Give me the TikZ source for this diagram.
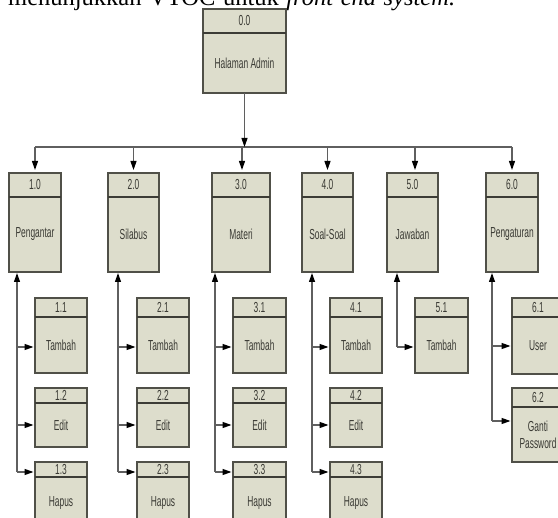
\documentclass[tikz,border=0pt]{standalone}
\usepackage{fontspec}
\setmainfont{Liberation Serif}
\newfontfamily\narrowsans[FakeStretch=0.58]{Liberation Sans}
\usetikzlibrary{arrows.meta}

\definecolor{boxfill}{RGB}{221,221,204}
\definecolor{boxline}{RGB}{80,80,72}
\definecolor{wiregray}{RGB}{95,95,95}
\definecolor{labelgray}{RGB}{58,58,52}

\tikzset{
  tocframe/.style={draw=boxline, line width=1.3pt, fill=boxfill, inner sep=0pt, outer sep=0pt},
  tocrule/.style={draw=boxline!75!black, line width=1.8pt},
  toclabel/.style={font=\narrowsans\fontsize{14.5}{17}\selectfont, text=labelgray, inner sep=0pt, align=center},
  wire/.style={draw=wiregray, line width=1.2pt},
  arrowwire/.style={wire, -{Triangle[length=9pt,width=6pt,color=black]}},
}

% #1 name, #2 left, #3 top, #4 right, #5 bottom, #6 header rule, #7 number, #8 title
\newcommand{\tocbox}[8]{%
  \node[tocframe, minimum width={(#4-#2)*1pt}, minimum height={(#5-#3)*1pt}]
    (#1) at ({(#2+#4)/2},{(#3+#5)/2}) {};
  \draw[tocrule] (#2,#6) -- (#4,#6);
  \node[toclabel] (#1-id) at ({(#2+#4)/2},{(#3+#6)/2}) {#7};
  \node[toclabel] (#1-name) at ({(#2+#4)/2},{(#6+#5)/2}) {#8};
}

\begin{document}
\begin{tikzpicture}[x=1pt, y=-1pt]
  \path[use as bounding box] (0,0) rectangle (558,518);
  \clip (0,0) rectangle (558,518);

  % running text line above the chart
  \node[anchor=base west, inner sep=0pt, font=\fontsize{24.5}{28}\selectfont] (caption) at (8,6)
    {\makebox[447pt][s]{menunjukkan VTOC untuk \textit{front end system.}}};

  % root
  \tocbox{root}{203}{9}{286}{93}{33}{0.0}{Halaman Admin}

  % first level
  \tocbox{m1}{9}{173}{61}{272}{197}{1.0}{Pengantar}
  \tocbox{m2}{108}{173}{159}{272}{197}{2.0}{Silabus}
  \tocbox{m3}{212}{173}{270}{272}{197}{3.0}{Materi}
  \tocbox{m4}{302}{173}{353}{272}{197}{4.0}{Soal-Soal}
  \tocbox{m5}{387}{173}{438}{272}{197}{5.0}{Jawaban}
  \tocbox{m6}{486}{173}{538}{272}{197}{6.0}{Pengaturan}

  % second level
  \tocbox{s11}{35}{298}{87}{373}{317}{1.1}{Tambah}
  \tocbox{s12}{35}{388}{87}{447}{403}{1.2}{Edit}
  \tocbox{s13}{35}{462}{87}{530}{477}{1.3}{Hapus}
  \tocbox{s21}{137}{298}{189}{373}{317}{2.1}{Tambah}
  \tocbox{s22}{137}{388}{189}{447}{403}{2.2}{Edit}
  \tocbox{s23}{137}{462}{189}{530}{477}{2.3}{Hapus}
  \tocbox{s31}{233}{298}{286}{373}{317}{3.1}{Tambah}
  \tocbox{s32}{233}{388}{286}{447}{403}{3.2}{Edit}
  \tocbox{s33}{233}{462}{286}{530}{477}{3.3}{Hapus}
  \tocbox{s41}{330}{298}{382}{373}{317}{4.1}{Tambah}
  \tocbox{s42}{330}{388}{382}{447}{403}{4.2}{Edit}
  \tocbox{s43}{330}{462}{382}{530}{477}{4.3}{Hapus}
  \tocbox{s51}{415}{298}{468}{373}{317}{5.1}{Tambah}
  \tocbox{s61}{512}{298}{564}{374}{317}{6.1}{User}
  \tocbox{s62}{512}{388}{564}{462}{407}{6.2}{Ganti\\Password}

  % bus from the root to the first level
  \coordinate (busL) at (35,147);
  \coordinate (busR) at (512,147);
  \draw[wire] (busL) -- (busR);
  \draw[arrowwire] (root.south) -- (root.south |- busL);
  \foreach \m in {m1,m2,m4,m6}
    \draw[arrowwire, shorten >=3pt] (\m.north |- busL) -- (\m.north);
  \draw[arrowwire, shorten >=3pt] (242,147) coordinate (drop3) -- (drop3 |- m3.north);
  \draw[arrowwire, shorten >=3pt] (415,147) coordinate (drop5) -- (drop5 |- m5.north);

  % entry points of the second-level boxes
  \coordinate (e11) at (35,347);  \coordinate (e12) at (35,425);  \coordinate (e13) at (35,472);
  \coordinate (e21) at (137,347); \coordinate (e22) at (137,425); \coordinate (e23) at (137,472);
  \coordinate (e31) at (233,347); \coordinate (e32) at (233,425); \coordinate (e33) at (233,472);
  \coordinate (e41) at (330,347); \coordinate (e42) at (330,425); \coordinate (e43) at (330,472);
  \coordinate (e51) at (415,347);
  \coordinate (e61) at (512,346); \coordinate (e62) at (512,421);

  % stems, one per first-level box
  \coordinate (t1) at (17,0);
  \coordinate (t2) at (118,0);
  \coordinate (t3) at (215,0);
  \coordinate (t4) at (312,0);
  \coordinate (t5) at (397,0);
  \coordinate (t6) at (492,0);

  \foreach \i/\last in {1/e13, 2/e23, 3/e33, 4/e43, 5/e51, 6/e62}
    \draw[arrowwire, shorten >=1pt] (t\i |- \last) -- (t\i |- m\i.south);

  \foreach \i/\j in {1/1,1/2,1/3,2/1,2/2,2/3,3/1,3/2,3/3,4/1,4/2,4/3,5/1,6/1,6/2}
    \draw[arrowwire, shorten >=1.5pt] (t\i |- e\i\j) -- (e\i\j);
\end{tikzpicture}
\end{document}
